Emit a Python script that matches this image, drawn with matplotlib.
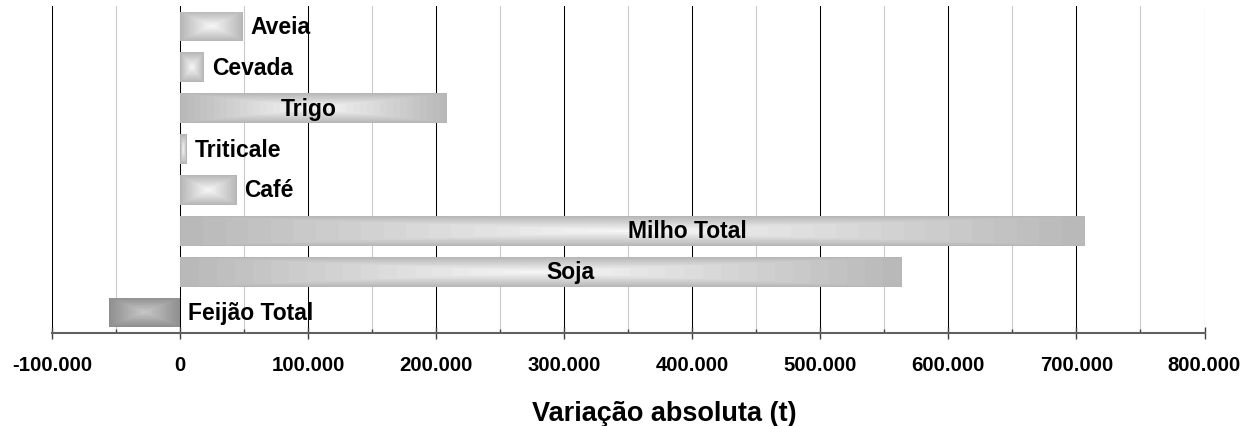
import numpy as np
import matplotlib.pyplot as plt
from matplotlib.colors import LinearSegmentedColormap
from matplotlib.ticker import MultipleLocator, FuncFormatter

# dados (t)
culturas = ['Aveia', 'Cevada', 'Trigo', 'Triticale', 'Café', 'Milho Total', 'Soja', 'Feijão Total']
variacao = [48600, 18600, 208200, 5000, 43900, 706600, 563700, -55100]
# posição do rótulo dentro da barra (None = rótulo logo depois da barra)
pos_rotulo = [None, None, 100800, None, None, 396500, 305000, None]

plt.rcParams['font.family'] = ['Liberation Sans', 'DejaVu Sans']
plt.rcParams['font.weight'] = 'bold'

fig = plt.figure(figsize=(12.56, 4.27), dpi=100)
ax = fig.add_axes([52/1256, 93/427, 1152.5/1256, 327/427])

y = np.arange(len(culturas))
barras = ax.barh(y, variacao, height=0.73, color='none', zorder=3)

cinza = LinearSegmentedColormap.from_list('cinza', ['#f6f6f6', '#b6b6b6'])
cinza_esc = LinearSegmentedColormap.from_list('cinza_esc', ['#c6c6c6', '#8e8e8e'])


def gradiente(ret, cmap):
    x0, y0 = ret.get_x(), ret.get_y()
    w, h = ret.get_width(), ret.get_height()
    # tamanho aproximado em pixels
    npx = max(int(abs(w) / 100000 * 128), 4)
    u = np.linspace(-1, 1, npx)
    v = np.linspace(-1, 1, 30)
    U, V = np.meshgrid(u, v)
    t = np.maximum(np.abs(U), np.abs(V))
    t = np.floor(t * 20) / 20
    im = ax.imshow(t, cmap=cmap, vmin=0, vmax=1, aspect='auto',
                   extent=[x0, x0 + w, y0, y0 + h], zorder=3,
                   interpolation='bilinear')
    im.set_clip_path(ret)


for ret, val in zip(barras, variacao):
    gradiente(ret, cinza_esc if val < 0 else cinza)

for i, (nome, val, px) in enumerate(zip(culturas, variacao, pos_rotulo)):
    if px is None:
        ax.text(max(val, 0) + 6500, i, nome, ha='left', va='center',
                fontsize=16.5, fontweight='bold', zorder=5)
    else:
        ax.text(px, i, nome, ha='center', va='center',
                fontsize=16.5, fontweight='bold', zorder=5)

ax.set_xlim(-100000, 800000)
ax.set_ylim(len(culturas) - 0.5, -0.5)

ax.xaxis.set_major_locator(MultipleLocator(100000))
ax.xaxis.set_minor_locator(MultipleLocator(50000))
ax.xaxis.set_major_formatter(FuncFormatter(lambda v, p: f'{v:,.0f}'.replace(',', '.')))
ax.grid(which='major', axis='x', color='black', lw=0.75, zorder=1)
ax.grid(which='minor', axis='x', color='#c8c8c8', lw=0.75, zorder=0)
ax.set_yticks([])

for lado in ['top', 'left', 'right']:
    ax.spines[lado].set_visible(False)
ax.spines['bottom'].set_color('#606060')
ax.spines['bottom'].set_linewidth(1.5)
ax.tick_params(axis='x', which='major', direction='inout', length=9, width=1,
               color='#404040', labelsize=14.7, pad=11.5)
ax.tick_params(axis='x', which='minor', direction='in', length=3, width=1,
               color='#404040')

fig.text(664/1256, 1 - 421/427, 'Variação absoluta (t)', ha='center', va='baseline',
         fontsize=19.5, fontweight='bold')

plt.savefig('out.png')
